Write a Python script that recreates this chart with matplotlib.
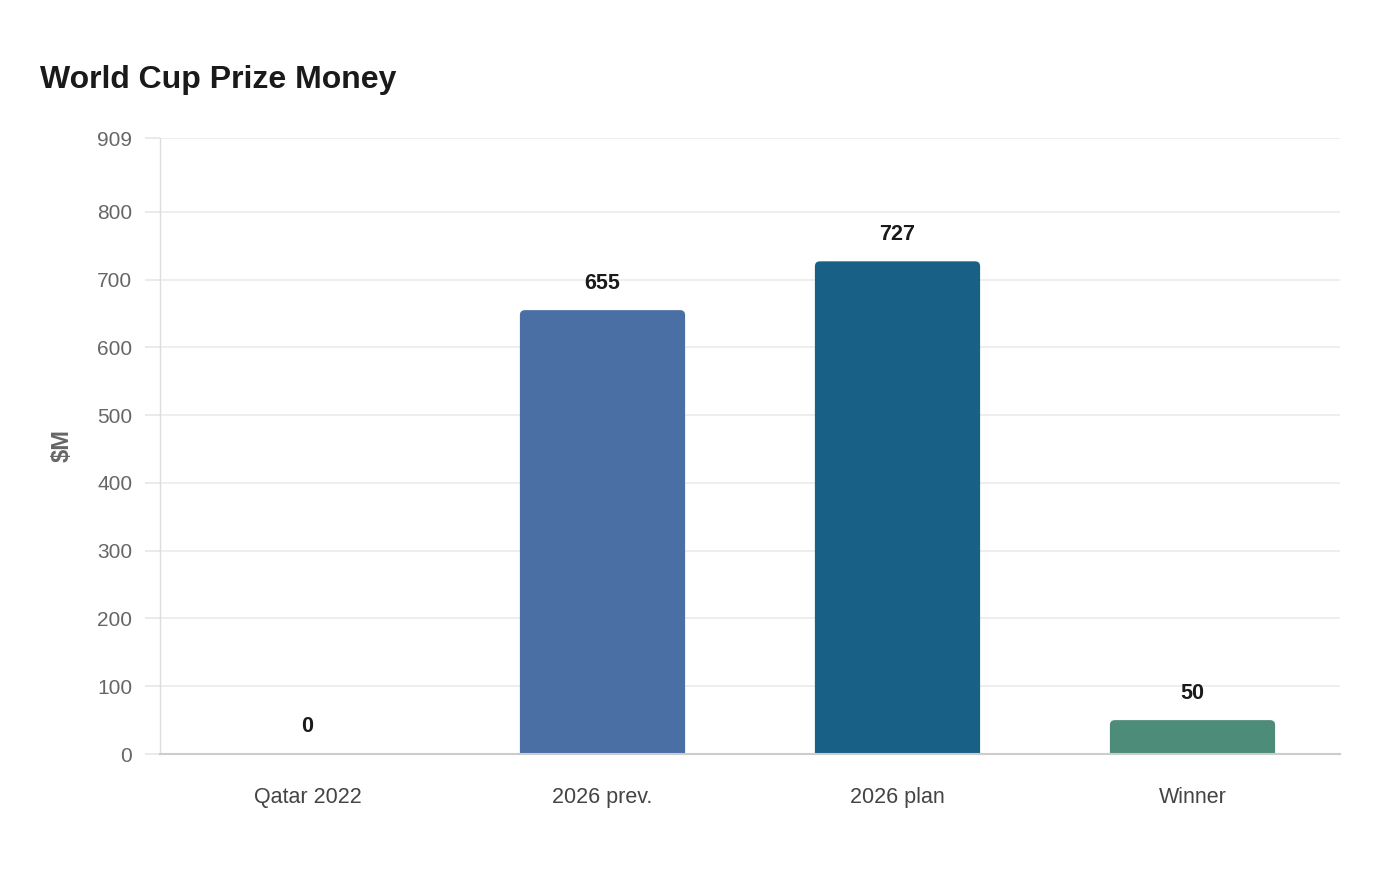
import matplotlib
matplotlib.use("Agg")
import matplotlib.pyplot as plt
from matplotlib.patches import FancyBboxPatch

plt.rcParams['font.family'] = ['Liberation Sans', 'DejaVu Sans']

categories = ["Qatar 2022", "2026 prev.", "2026 plan", "Winner"]
values = [0, 655, 727, 50]
colors = ["#4a6fa5", "#4a6fa5", "#196087", "#4e8c7a"]
yticks = [0, 100, 200, 300, 400, 500, 600, 700, 800, 909]
ymax = 909

W, H = 1400, 880
fig = plt.figure(figsize=(W / 100, H / 100), dpi=100)
L, R, T, B = 160, 1340, 138, 754
ax = fig.add_axes([L / W, 1 - B / H, (R - L) / W, (B - T) / H])

x = list(range(len(categories)))
ax.set_xlim(-0.5, len(categories) - 0.5)
ax.set_ylim(0, ymax)

bars = ax.bar(x, values, width=0.56, color=colors, zorder=3)

# rounded top corners
xu_per_px = (len(categories)) / (R - L)
yu_per_px = ymax / (B - T)
rad_px = 5
for b, c in zip(bars, colors):
    h = b.get_height()
    b.set_visible(False)
    if h <= 0:
        continue
    extra = rad_px * yu_per_px
    p = FancyBboxPatch((b.get_x(), -extra), b.get_width(), h + extra,
                       boxstyle=f"round,pad=0,rounding_size={rad_px * xu_per_px}",
                       mutation_aspect=yu_per_px / xu_per_px,
                       facecolor=c, edgecolor='none', zorder=3, clip_on=True)
    ax.add_patch(p)

for xi, v in zip(x, values):
    ax.annotate(f"{v}", (xi, v), xytext=(0, 19.5), textcoords='offset points',
                ha='center', va='center', fontsize=15.5, fontweight='bold',
                color='#1a1a1a', zorder=4)

ax.set_yticks(yticks)
ax.set_yticklabels([str(t) for t in yticks])
ax.set_xticks(x)
ax.set_xticklabels(categories)

ax.grid(axis='y', color='#ebebeb', linewidth=1.2, zorder=0)
ax.tick_params(axis='y', length=11, color='#e6e6e6', width=1.2, pad=9,
               labelsize=15, labelcolor='#666666')
ax.tick_params(axis='x', length=0, pad=24, labelsize=15.5, labelcolor='#444444')

for s in ['top', 'right']:
    ax.spines[s].set_visible(False)
ax.spines['left'].set_color('#dddddd')
ax.spines['left'].set_linewidth(1)
ax.spines['bottom'].set_color('#cccccc')
ax.spines['bottom'].set_linewidth(1.5)
ax.spines['bottom'].set_zorder(5)

fig.text(40 / W, 1 - 80 / H, "World Cup Prize Money", fontsize=23,
         fontweight='bold', color='#1a1a1a', ha='left', va='center')
fig.text(62 / W, 1 - 445 / H, "$M", fontsize=17, fontweight='bold',
         color='#666666', rotation=90, ha='center', va='center')

fig.savefig("out.png", dpi=100, facecolor='white')
